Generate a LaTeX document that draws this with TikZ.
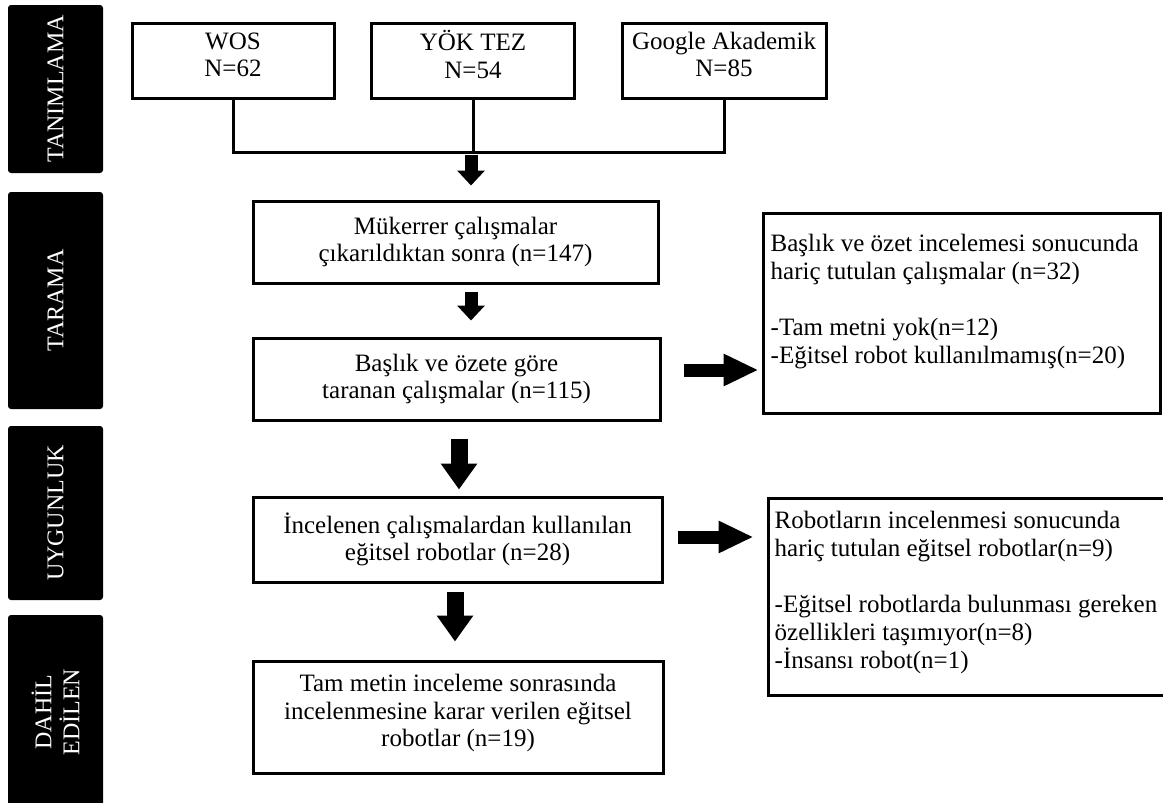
\documentclass[tikz,border=0pt]{standalone}
\usepackage{fontspec}
\setmainfont{Liberation Serif}
\usetikzlibrary{arrows.meta,calc}
\begin{document}
\begin{tikzpicture}[x=1pt,y=-1pt,
  box/.style={draw, line width=3pt, align=center, font=\fontsize{25}{27.5}\selectfont, inner sep=0pt},
  plainbox/.style={draw, line width=3pt, inner sep=0pt},
  txt/.style={align=left, font=\fontsize{25}{28}\selectfont, inner sep=0pt},
  side/.style={fill=black, rounded corners=3pt, text=white, font=\fontsize{24}{28}\selectfont, align=center, rotate=90, minimum height=95pt, inner sep=0pt},
  conn/.style={line width=3pt},
  arrS/.style={line width=13pt, -{Triangle[length=15pt,width=27pt]}},
  arrL/.style={line width=17pt, -{Triangle[length=26pt,width=35pt]}},
  arrR/.style={line width=13pt, -{Triangle[length=35pt,width=30pt]}}]
\useasboundingbox (0,0) rectangle (1163,803);
\clip (0,0) rectangle (1163,803);
\fill[white] (0,0) rectangle (1163,803);

% side bars
\node[side, minimum width=168pt] (s1) at (55.5,89) {TANIMLAMA};
\node[side, minimum width=217pt] (s2) at (55.5,300.5) {TARAMA};
\node[side, minimum width=174pt] (s3) at (55.5,513) {UYGUNLUK};
\node[side, minimum width=194pt] (s4) at (55.5,712) {DAHİL\\EDİLEN};

% top sources
\node[box, text depth=12pt, minimum width=202pt, minimum height=75pt] (wos) at (233,60.5) {WOS\\N=62};
\node[box, text depth=12pt, minimum width=203pt, minimum height=75pt] (yok) at (473,60.5) {YÖK TEZ\\N=54};
\node[box, text depth=12pt, minimum width=204pt, minimum height=75pt] (goo) at (724,60.5) {Google Akademik\\N=85};
\coordinate (j) at (471,152);
\draw[conn] (wos.south) -- (wos.south |- j) -- (goo.south |- j) -- (goo.south);
\draw[conn] (yok.south) -- (yok.south |- j);

% main column
\node[box, minimum width=405pt, minimum height=82pt] (m1) at (455.5,242) {Mükerrer çalışmalar\\çıkarıldıktan sonra (n=147)};
\node[box, minimum width=407pt, minimum height=82pt] (m2) at (456.5,379) {Başlık ve özete göre\\taranan çalışmalar (n=115)};
\node[box, minimum width=409pt, minimum height=85pt] (m3) at (457.5,539.5) {İncelenen çalışmalardan kullanılan\\eğitsel robotlar (n=28)};
\node[box, text depth=13pt, minimum width=410pt, minimum height=112pt] (m4) at (458,717) {Tam metin inceleme sonrasında\\incelenmesine karar verilen eğitsel\\robotlar (n=19)};

% right boxes
\node[plainbox, minimum width=397pt, minimum height=200pt] (r1) at (961.5,313) {};
\node[txt, anchor=north west] (t1) at ($(r1.north west)+(9,22)$) {Başlık ve özet incelemesi sonucunda\\hariç tutulan çalışmalar (n=32)\\[28pt]-Tam metni yok(n=12)\\-Eğitsel robot kullanılmamış(n=20)};
\node[plainbox, minimum width=400pt, minimum height=197pt] (r2) at (968,596.5) {};
\node[txt, anchor=north west] (t2) at ($(r2.north west)+(8,14)$) {Robotların incelenmesi sonucunda\\hariç tutulan eğitsel robotlar(n=9)\\[28pt]-Eğitsel robotlarda bulunması gereken\\özellikleri taşımıyor(n=8)\\-İnsansı robot(n=1)};

% arrows
\draw[arrS] ($(j)+(0,3)$) -- ($(j |- m1.north)+(0,-14)$);
\draw[arrS] ($(m1.south -| j)+(0,7)$) -- ($(m2.north -| j)+(0,-16)$);
\draw[arrL] ($(m2.south)+(2.5,17)$) -- ($(m3.north)+(1.5,-6)$);
\draw[arrL] ($(m3.south)+(-2.5,8)$) -- ($(m4.north)+(-3,-18)$);
\draw[arrR] ($(m2.east)+(22,-9)$) -- ($(r1.west |- m2.east)+(-3,-9)$);
\draw[arrR] ($(m3.east)+(14,-2.5)$) -- ($(r2.west |- m3.east)+(-13,-2.5)$);
\end{tikzpicture}
\end{document}
